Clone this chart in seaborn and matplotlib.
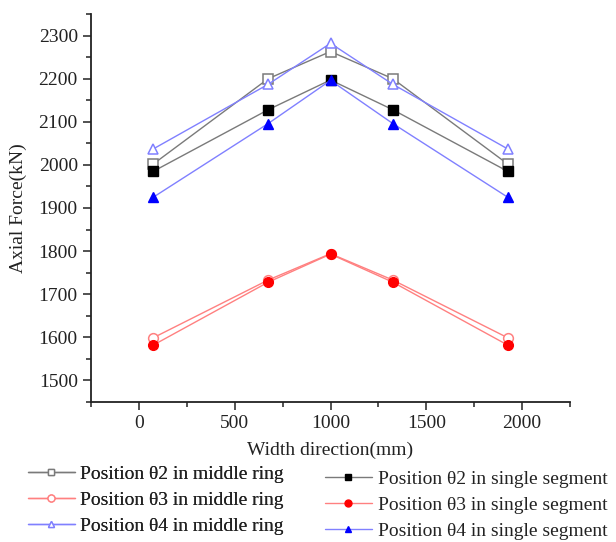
import pandas as pd
import matplotlib
matplotlib.use('Agg')
import matplotlib.pyplot as plt
import seaborn as sns
from matplotlib.ticker import MultipleLocator
from matplotlib.lines import Line2D

# Values
width_mm = [75, 675, 1000, 1325, 1925]
theta2_middle = [2002, 2200, 2263, 2200, 2002]
theta3_middle = [1599, 1733, 1794, 1733, 1599]
theta4_middle = [2037, 2187, 2282, 2187, 2037]
theta2_single = [1985, 2128, 2197, 2128, 1985]
theta3_single = [1582, 1728, 1793, 1728, 1582]
theta4_single = [1925, 2096, 2196, 2096, 1925]

middle_labels = ['Position θ2 in middle ring', 'Position θ3 in middle ring',
                 'Position θ4 in middle ring']
single_labels = ['Position θ2 in single segment', 'Position θ3 in single segment',
                 'Position θ4 in single segment']

sns.set_style('ticks')
plt.rcParams['font.family'] = ['Liberation Serif', 'DejaVu Serif']

line_colors = ['#7a7a7a', '#ff8080', '#8080ff']
mark_colors = ['black', 'red', 'blue']
markers = ['s', 'o', '^']
msizes = [6.5, 7, 7.5]
fs = 14

fig = plt.figure(figsize=(6.16, 5.42), dpi=100)
ax = fig.add_axes([91 / 616, 1 - 402 / 542, (570 - 91) / 616, (402 - 14) / 542])

middle_series = [theta2_middle, theta3_middle, theta4_middle]
single_series = [theta2_single, theta3_single, theta4_single]

for i in range(3):
    df = pd.DataFrame({'x': width_mm, 'y': middle_series[i]})
    sns.lineplot(data=df, x='x', y='y', ax=ax, color=line_colors[i], lw=1,
                 marker=markers[i], markersize=msizes[i], markerfacecolor='white',
                 markeredgecolor=line_colors[i], markeredgewidth=1.1)
    df = pd.DataFrame({'x': width_mm, 'y': single_series[i]})
    sns.lineplot(data=df, x='x', y='y', ax=ax, color=line_colors[i], lw=1,
                 marker=markers[i], markersize=msizes[i], markerfacecolor=mark_colors[i],
                 markeredgecolor=mark_colors[i], markeredgewidth=1)

ax.set_xlim(-250, 2250)
ax.set_ylim(1450, 2350)
ax.xaxis.set_major_locator(MultipleLocator(500))
ax.xaxis.set_minor_locator(MultipleLocator(250))
ax.yaxis.set_major_locator(MultipleLocator(100))
ax.yaxis.set_minor_locator(MultipleLocator(50))
ax.tick_params(which='major', length=6, width=1.1, color='#222222', labelsize=fs,
               labelcolor='#222222', direction='out')
ax.tick_params(which='minor', length=3.5, width=1.1, color='#222222', direction='out')
for s in ['left', 'bottom']:
    ax.spines[s].set_linewidth(1.3)
    ax.spines[s].set_color('#222222')
sns.despine(ax=ax)

ax.set_xlabel('')
ax.set_ylabel('')
fig.text(330 / 616, 1 - 450 / 542, 'Width direction(mm)', ha='center', va='center',
         fontsize=fs, color='#222222')
fig.text(18 / 616, 1 - 208 / 542, 'Axial Force(kN)', ha='center', va='center',
         rotation=90, fontsize=fs, color='#222222')

# Two separate legend columns below the axes
h_mid = [Line2D([], [], color=line_colors[i], lw=1, marker=markers[i], markersize=5,
                markerfacecolor='white', markeredgecolor=line_colors[i], markeredgewidth=1)
         for i in range(3)]
h_sing = [Line2D([], [], color=line_colors[i], lw=1, marker=markers[i], markersize=5,
                 markerfacecolor=mark_colors[i], markeredgecolor=mark_colors[i])
          for i in range(3)]
leg_kw = dict(frameon=False, fontsize=fs, handlelength=2.4, handletextpad=0.3,
              labelspacing=0.43, borderpad=0, borderaxespad=0, labelcolor='#222222')
leg1 = fig.legend(h_mid, middle_labels, loc='center left',
                  bbox_to_anchor=(28 / 616, 1 - 500 / 542), **leg_kw)
fig.add_artist(leg1)
fig.legend(h_sing, single_labels, loc='center left',
           bbox_to_anchor=(325 / 616, 1 - 505 / 542), **leg_kw)

fig.savefig('out.png', dpi=100)
